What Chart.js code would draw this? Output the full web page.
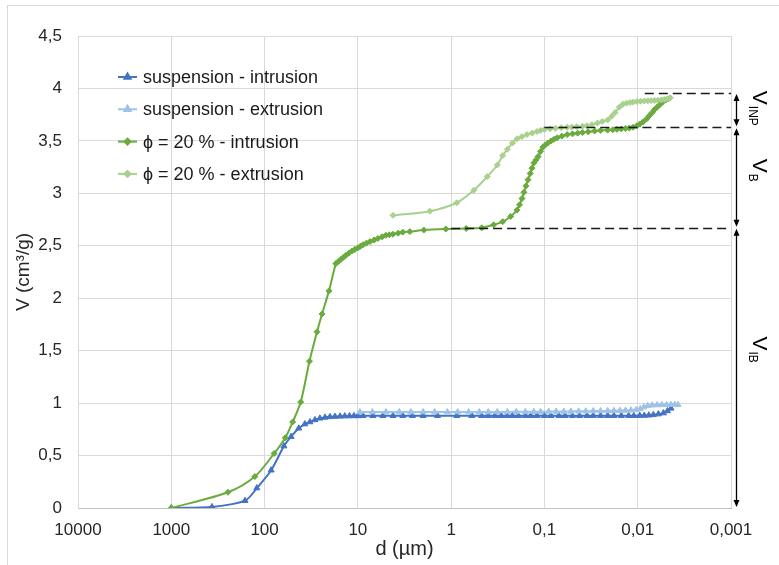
<!DOCTYPE html>
<html>
<head>
<meta charset="utf-8">
<script src="https://cdn.jsdelivr.net/npm/chart.js@4.4.0/dist/chart.umd.min.js"></script>
<style>
html, body { margin: 0; padding: 0; background: #fff; }
#wrap { width: 779px; height: 565px; }
</style>
</head>
<body>
<div id="wrap"><canvas id="myChart" width="779" height="565"></canvas></div>
<script>
// pore diameter d (µm) and cumulative volume V (cm3/g)
const suspIntrusionD = [
    1000, 366, 162, 121, 85, 62, 52, 43, 37, 32.6,
    28.8, 25.5, 22.5, 19.9, 17.6, 15.5, 13.8, 12.3, 11, 10,
    8.8, 6.9, 5.4, 4.2, 3.3, 2.6, 2.0, 1.4, 0.87, 0.6,
    0.47, 0.40, 0.34, 0.29, 0.25, 0.22, 0.19, 0.16, 0.14, 0.12,
    0.1, 0.085, 0.07, 0.06, 0.05, 0.042, 0.035, 0.03, 0.025, 0.021,
    0.018, 0.015, 0.0125, 0.011, 0.0095, 0.0085, 0.0076, 0.0068, 0.0060, 0.0053,
    0.0048, 0.0044
];
const suspIntrusionV = [
    0, 0.01, 0.07, 0.19, 0.36, 0.59, 0.68, 0.76, 0.80, 0.82,
    0.84, 0.855, 0.864, 0.869, 0.872, 0.874, 0.876, 0.877, 0.878, 0.878,
    0.879, 0.879, 0.879, 0.88, 0.88, 0.88, 0.88, 0.88, 0.88, 0.88,
    0.88, 0.88, 0.88, 0.88, 0.88, 0.88, 0.88, 0.88, 0.88, 0.88,
    0.88, 0.88, 0.88, 0.88, 0.88, 0.88, 0.88, 0.88, 0.88, 0.88,
    0.88, 0.88, 0.88, 0.88, 0.881, 0.882, 0.884, 0.888, 0.895, 0.905,
    0.925, 0.95
];

const suspExtrusionD = [
    0.0037, 0.0040, 0.0044, 0.0049, 0.0055, 0.0062, 0.0070, 0.0078, 0.0086, 0.0094,
    0.0104, 0.0118, 0.0135, 0.0155, 0.018, 0.021, 0.025, 0.03, 0.036, 0.043,
    0.052, 0.062, 0.075, 0.09, 0.11, 0.13, 0.16, 0.2, 0.25, 0.32,
    0.4, 0.5, 0.65, 0.85, 1.1, 1.5, 2.0, 2.7, 3.6, 5.0,
    7.0, 9.5
];
const suspExtrusionV = [
    0.985, 0.985, 0.985, 0.984, 0.983, 0.982, 0.980, 0.975, 0.962, 0.945,
    0.936, 0.932, 0.930, 0.928, 0.927, 0.926, 0.925, 0.924, 0.923, 0.922,
    0.921, 0.92, 0.92, 0.919, 0.918, 0.918, 0.917, 0.917, 0.916, 0.916,
    0.915, 0.915, 0.915, 0.915, 0.915, 0.915, 0.915, 0.915, 0.915, 0.915,
    0.915, 0.915
];

const phiIntrusionD = [
    1000, 247, 127, 79, 60, 50, 41, 33, 27.4, 24.2,
    20.4, 17.2, 16.2, 15.2, 14.3, 13.4, 12.5, 11.6, 10.8, 10.0,
    9.4, 8.8, 8.1, 7.4, 6.7, 6.1, 5.5, 5.0, 4.6, 4.2,
    3.7, 3.3, 2.77, 1.96, 1.14, 0.69, 0.47, 0.35, 0.28, 0.23,
    0.197, 0.185, 0.174, 0.166, 0.158, 0.15, 0.142, 0.136, 0.130, 0.123,
    0.117, 0.110, 0.104, 0.098, 0.092, 0.085, 0.079, 0.073, 0.065, 0.057,
    0.050, 0.044, 0.039, 0.034, 0.029, 0.025, 0.021, 0.0185, 0.0167, 0.015,
    0.0135, 0.0123, 0.0112, 0.0102, 0.0095, 0.0088, 0.0080, 0.0075, 0.0070, 0.0066,
    0.0062, 0.0058, 0.0054, 0.0050, 0.0047, 0.0045
];
const phiIntrusionV = [
    0, 0.15, 0.30, 0.52, 0.67, 0.82, 1.01, 1.40, 1.68, 1.85,
    2.07, 2.33, 2.35, 2.37, 2.39, 2.41, 2.43, 2.45, 2.465, 2.48,
    2.495, 2.51, 2.525, 2.54, 2.555, 2.57, 2.585, 2.60, 2.605, 2.61,
    2.62, 2.63, 2.635, 2.65, 2.66, 2.665, 2.672, 2.70, 2.73, 2.78,
    2.84, 2.89, 2.95, 3.01, 3.07, 3.13, 3.19, 3.24, 3.29, 3.32,
    3.35, 3.40, 3.44, 3.46, 3.48, 3.50, 3.515, 3.53, 3.545, 3.56,
    3.567, 3.574, 3.58, 3.587, 3.594, 3.60, 3.603, 3.606, 3.61, 3.614,
    3.618, 3.622, 3.63, 3.645, 3.66, 3.68, 3.71, 3.74, 3.77, 3.80,
    3.82, 3.845, 3.87, 3.89, 3.90, 3.91
];

const phiExtrusionD = [
    0.0045, 0.0048, 0.0052, 0.0056, 0.0061, 0.0066, 0.0072, 0.0078, 0.0085, 0.0093,
    0.0102, 0.0112, 0.0121, 0.0132, 0.0144, 0.0158, 0.0175, 0.019, 0.021, 0.024,
    0.027, 0.031, 0.035, 0.039, 0.045, 0.051, 0.057, 0.066, 0.076, 0.087,
    0.10, 0.11, 0.12, 0.135, 0.154, 0.175, 0.197, 0.22, 0.25, 0.28,
    0.32, 0.41, 0.57, 0.87, 1.69, 4.2
];
const phiExtrusionV = [
    3.91, 3.90, 3.895, 3.89, 3.888, 3.886, 3.884, 3.882, 3.88, 3.878,
    3.875, 3.87, 3.865, 3.86, 3.85, 3.82, 3.77, 3.735, 3.70, 3.685,
    3.67, 3.655, 3.645, 3.64, 3.635, 3.632, 3.63, 3.625, 3.62, 3.615,
    3.61, 3.60, 3.59, 3.575, 3.56, 3.54, 3.52, 3.48, 3.42, 3.36,
    3.27, 3.16, 3.03, 2.91, 2.83, 2.79
];

const seriesNames = ['suspension - intrusion', 'suspension - extrusion', 'ϕ = 20 % - intrusion', 'ϕ = 20 % - extrusion'];
const seriesColors = ['#4472C4', '#9DC3E6', '#6AAB3E', '#A9D18E'];

const xTickValues = [10000, 1000, 100, 10, 1, 0.1, 0.01, 0.001];
const xTickLabels = ['10000', '1000', '100', '10', '1', '0,1', '0,01', '0,001'];

// volume levels marked on the right side (V_INP, V_B, V_IB)
const levelV = [3.957, 3.629, 2.672];
const levelFromD = [0.0084, 0.1, 1];
const bracketTop = [3.957, 3.629, 2.672];
const bracketBottom = [3.629, 2.672, 0];
const bracketSub = ['INP', 'B', 'IB'];
const bracketLabelV = [3.81, 3.22, 1.51];

function toPoints(d, v) {
    return d.map((x, i) => ({ x: x, y: v[i] }));
}

Chart.defaults.font.family = "'Liberation Sans', Arial, Helvetica, sans-serif";
Chart.defaults.color = '#262626';

function makeSet(i, d, v, style, radius) {
    return {
        label: seriesNames[i],
        data: toPoints(d, v),
        borderColor: seriesColors[i],
        backgroundColor: seriesColors[i],
        borderWidth: 2,
        pointStyle: style,
        pointRadius: radius,
        pointBorderWidth: 1,
        tension: 0.3,
        order: 4 - i
    };
}

function arrowHead(ctx, x, y, dir) {
    ctx.beginPath();
    ctx.moveTo(x, y);
    ctx.lineTo(x - 3, y + dir * 7);
    ctx.lineTo(x + 3, y + dir * 7);
    ctx.closePath();
    ctx.fill();
}

const overlay = {
    id: 'overlay',
    beforeDraw(chart) {
        const ctx = chart.ctx;
        ctx.save();
        ctx.strokeStyle = '#d9d9d9';
        ctx.lineWidth = 1;
        ctx.strokeRect(7.5, 5.5, 800, 600);
        ctx.restore();
    },
    afterDraw(chart) {
        const ctx = chart.ctx;
        const xs = chart.scales.x;
        const ys = chart.scales.y;
        const area = chart.chartArea;

        // dashed level lines
        ctx.save();
        ctx.strokeStyle = '#1a1a1a';
        ctx.lineWidth = 1.5;
        ctx.setLineDash([9, 5]);
        levelV.forEach((v, i) => {
            const y = Math.round(ys.getPixelForValue(v)) + 0.5;
            ctx.beginPath();
            ctx.moveTo(xs.getPixelForValue(levelFromD[i]), y);
            ctx.lineTo(area.right, y);
            ctx.stroke();
        });
        ctx.restore();

        // double arrows + rotated labels
        const ax = area.right + 5.5;
        ctx.save();
        ctx.strokeStyle = '#000';
        ctx.fillStyle = '#000';
        ctx.lineWidth = 1.3;
        bracketTop.forEach((top, i) => {
            const y1 = ys.getPixelForValue(top) + 1;
            const y2 = ys.getPixelForValue(bracketBottom[i]) - 1;
            ctx.beginPath();
            ctx.moveTo(ax, y1 + 3);
            ctx.lineTo(ax, y2 - 3);
            ctx.stroke();
            arrowHead(ctx, ax, y1, 1);
            arrowHead(ctx, ax, y2, -1);

            const mainFont = "21px 'Liberation Sans', Arial, sans-serif";
            const subFont = "12px 'Liberation Sans', Arial, sans-serif";
            ctx.font = mainFont;
            const wMain = ctx.measureText('V').width;
            ctx.font = subFont;
            const wSub = ctx.measureText(bracketSub[i]).width;
            const total = wMain + 1 + wSub;
            const cy = ys.getPixelForValue(bracketLabelV[i]);
            ctx.save();
            ctx.translate(area.right + 22, cy - total / 2);
            ctx.rotate(Math.PI / 2);
            ctx.textBaseline = 'alphabetic';
            ctx.textAlign = 'left';
            ctx.font = mainFont;
            ctx.fillText('V', 0, 0);
            ctx.font = subFont;
            ctx.fillText(bracketSub[i], wMain + 1, 4);
            ctx.restore();
        });
        ctx.restore();

        // legend inside the plot
        ctx.save();
        ctx.font = "18px 'Liberation Sans', Arial, sans-serif";
        ctx.textBaseline = 'middle';
        ctx.fillStyle = '#1a1a1a';
        chart.data.datasets.forEach((ds, i) => {
            const y = area.top + 41 + i * 32.3;
            const lx = area.left + 40;
            ctx.strokeStyle = ds.borderColor;
            ctx.lineWidth = 2;
            ctx.beginPath();
            ctx.moveTo(lx, y);
            ctx.lineTo(lx + 19, y);
            ctx.stroke();
            Chart.helpers.drawPoint(ctx, {
                pointStyle: ds.pointStyle,
                radius: ds.pointRadius,
                rotation: 0,
                borderWidth: 1
            }, lx + 9.5, y);
            ctx.fillStyle = ds.backgroundColor;
            ctx.fill();
            ctx.fillStyle = '#1a1a1a';
            ctx.fillText(ds.label, lx + 25, y + 1);
        });
        ctx.restore();
    }
};

const myChart = new Chart(document.getElementById('myChart'), {
    type: 'line',
    data: {
        datasets: [
            makeSet(0, suspIntrusionD, suspIntrusionV, 'triangle', 3.5),
            makeSet(1, suspExtrusionD, suspExtrusionV, 'triangle', 3.5),
            makeSet(2, phiIntrusionD, phiIntrusionV, 'rectRot', 3),
            makeSet(3, phiExtrusionD, phiExtrusionV, 'rectRot', 3)
        ]
    },
    options: {
        responsive: false,
        devicePixelRatio: 1,
        animation: false,
        layout: { padding: { left: 8, right: 48, top: 36, bottom: 0 } },
        plugins: {
            legend: { display: false },
            tooltip: { enabled: false }
        },
        scales: {
            x: {
                type: 'logarithmic',
                reverse: true,
                min: 0.001,
                max: 10000,
                afterBuildTicks: scale => {
                    scale.ticks = xTickValues.map(v => ({ value: v }));
                },
                afterFit: scale => { scale.height = 57; },
                ticks: {
                    autoSkip: false,
                    maxRotation: 0,
                    padding: 12,
                    font: { size: 17 },
                    callback: (val, idx) => xTickLabels[idx]
                },
                grid: { color: '#d9d9d9', drawTicks: false },
                border: { color: '#bfbfbf' },
                title: {
                    display: true,
                    text: 'd (µm)',
                    font: { size: 20 },
                    padding: { top: 0, bottom: 4 }
                }
            },
            y: {
                min: 0,
                max: 4.5,
                afterFit: scale => { scale.width = 70; },
                ticks: {
                    stepSize: 0.5,
                    padding: 16,
                    font: { size: 17 },
                    callback: val => String(val).replace('.', ',')
                },
                grid: { color: '#d9d9d9', drawTicks: false },
                border: { color: '#d9d9d9' },
                title: {
                    display: true,
                    text: 'V (cm³/g)',
                    font: { size: 19 },
                    padding: { top: 4, bottom: 0 }
                }
            }
        }
    },
    plugins: [overlay]
});
</script>
</body>
</html>
